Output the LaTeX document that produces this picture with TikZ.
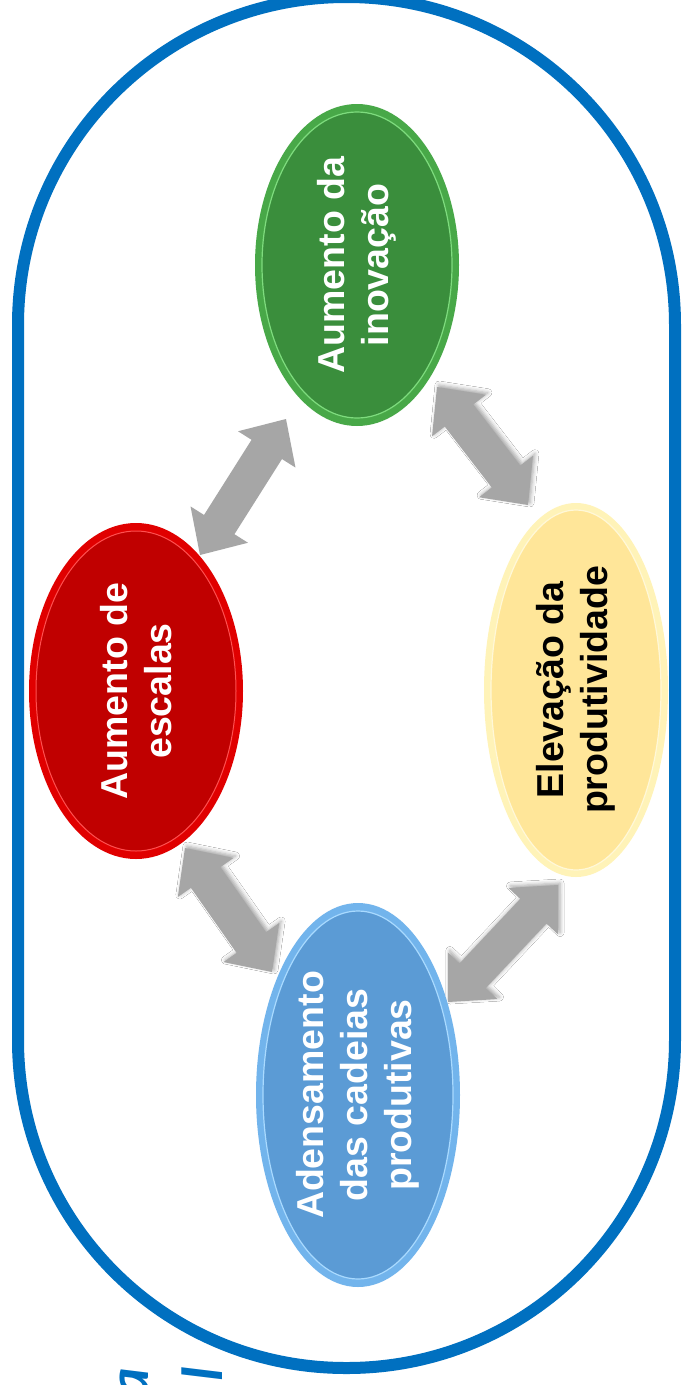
\documentclass[tikz,border=0pt]{standalone}
\usepackage{fontspec}
\setmainfont{Liberation Sans}
\newfontfamily\fragfont{Carlito}
\usetikzlibrary{shapes.geometric,calc,shadows.blur}

\definecolor{frame}{HTML}{0070C0}
\definecolor{arrowgray}{HTML}{A6A6A6}
\definecolor{grnrim}{HTML}{48A848}
\definecolor{grnfill}{HTML}{3A8E3C}
\definecolor{grnhi}{HTML}{7EDC7E}
\definecolor{redrim}{HTML}{E00000}
\definecolor{redfill}{HTML}{C00000}
\definecolor{redhi}{HTML}{FF5050}
\definecolor{ylwrim}{HTML}{FFF3B8}
\definecolor{ylwfill}{HTML}{FFE699}
\definecolor{ylwhi}{HTML}{FFF8D8}
\definecolor{blurim}{HTML}{72B4EC}
\definecolor{blufill}{HTML}{5B9BD5}
\definecolor{bluhi}{HTML}{A9DAFF}

\tikzset{
  bubble/.style={ellipse, inner sep=0pt, draw=none},
  bubbletext/.style={rotate=90, align=center, inner sep=0pt,
    font=\fontsize{37.5}{44}\selectfont\bfseries},
  grayarrow/.style={fill=arrowgray, draw=none},
  softshadow/.style={blur shadow={shadow xshift=2pt, shadow yshift=2pt,
    shadow blur radius=4pt, shadow opacity=35}},
  fragtext/.style={rotate=90, anchor=base east, inner sep=0pt, text=frame,
    font=\fragfont\fontsize{58}{70}\selectfont\bfseries\itshape}
}

% double block arrow between two named coordinates
\newcommand\blockarrow[3][]{%
  \fill[grayarrow,#1] (#2)
    -- ($(#2)!36pt!(#3)!34pt!90:(#3)$)
    -- ($(#2)!36pt!(#3)!18pt!90:(#3)$)
    -- ($(#3)!36pt!(#2)!18pt!-90:(#2)$)
    -- ($(#3)!36pt!(#2)!34pt!-90:(#2)$)
    -- (#3)
    -- ($(#3)!36pt!(#2)!34pt!90:(#2)$)
    -- ($(#3)!36pt!(#2)!18pt!90:(#2)$)
    -- ($(#2)!36pt!(#3)!18pt!-90:(#3)$)
    -- ($(#2)!36pt!(#3)!34pt!-90:(#3)$)
    -- cycle;%
}

\begin{document}
\begin{tikzpicture}[x=1pt, y=-1pt]
\useasboundingbox (0,0) rectangle (681,1385);
\fill[white] (0,0) rectangle (681,1385);

% outer frame
\draw[frame, line width=12pt, rounded corners=328pt] (18,-3) rectangle (675,1368);

% arrow end points
\coordinate (a1) at (200,555);
\coordinate (a2) at (286,419);
\coordinate (b1) at (437,387);
\coordinate (b2) at (528,505);
\coordinate (c1) at (185,848);
\coordinate (c2) at (272,972);
\coordinate (d1) at (558,885);
\coordinate (d2) at (448,1002);

\blockarrow{a1}{a2}
\blockarrow[softshadow]{b1}{b2}
\blockarrow[softshadow]{c1}{c2}
\blockarrow[softshadow]{d1}{d2}

% green
\node[bubble, fill=grnrim, minimum width=204pt, minimum height=322pt] (inov) at (357,265) {};
\fill[grnfill, draw=grnhi, line width=1.2pt] (inov.center) ellipse [x radius=95pt, y radius=153pt];
\node[bubbletext, text=white] (inovtxt) at (inov.center) {Aumento da\\inovação};

% red
\node[bubble, fill=redrim, minimum width=214pt, minimum height=336pt] (esc) at (136,691) {};
\fill[redfill, draw=redhi, line width=1pt] (esc.center) ellipse [x radius=100pt, y radius=160pt];
\node[bubbletext, text=white] (esctxt) at (esc.center) {Aumento de\\escalas};

% yellow
\node[bubble, fill=ylwrim, minimum width=184pt, minimum height=374pt] (prod) at (576,690) {};
\fill[ylwfill, draw=ylwhi, line width=1.2pt] (prod.center) ellipse [x radius=85pt, y radius=180pt];
\node[bubbletext, text=black] (prodtxt) at (prod.center) {Elevação da\\produtividade};

% blue
\node[bubble, fill=blurim, minimum width=204pt, minimum height=384pt] (aden) at (358,1095) {};
\fill[blufill, draw=bluhi, line width=1.2pt] (aden.center) ellipse [x radius=95pt, y radius=184pt];
\node[bubbletext, text=white] (adentxt) at (aden.center) {Adensamento\\das cadeias\\produtivas};

% cut-off title fragments
\node[fragtext] (frag1) at (148,1368) {a};
\node[fragtext] (frag2) at (222,1367) {l};
\end{tikzpicture}
\end{document}
